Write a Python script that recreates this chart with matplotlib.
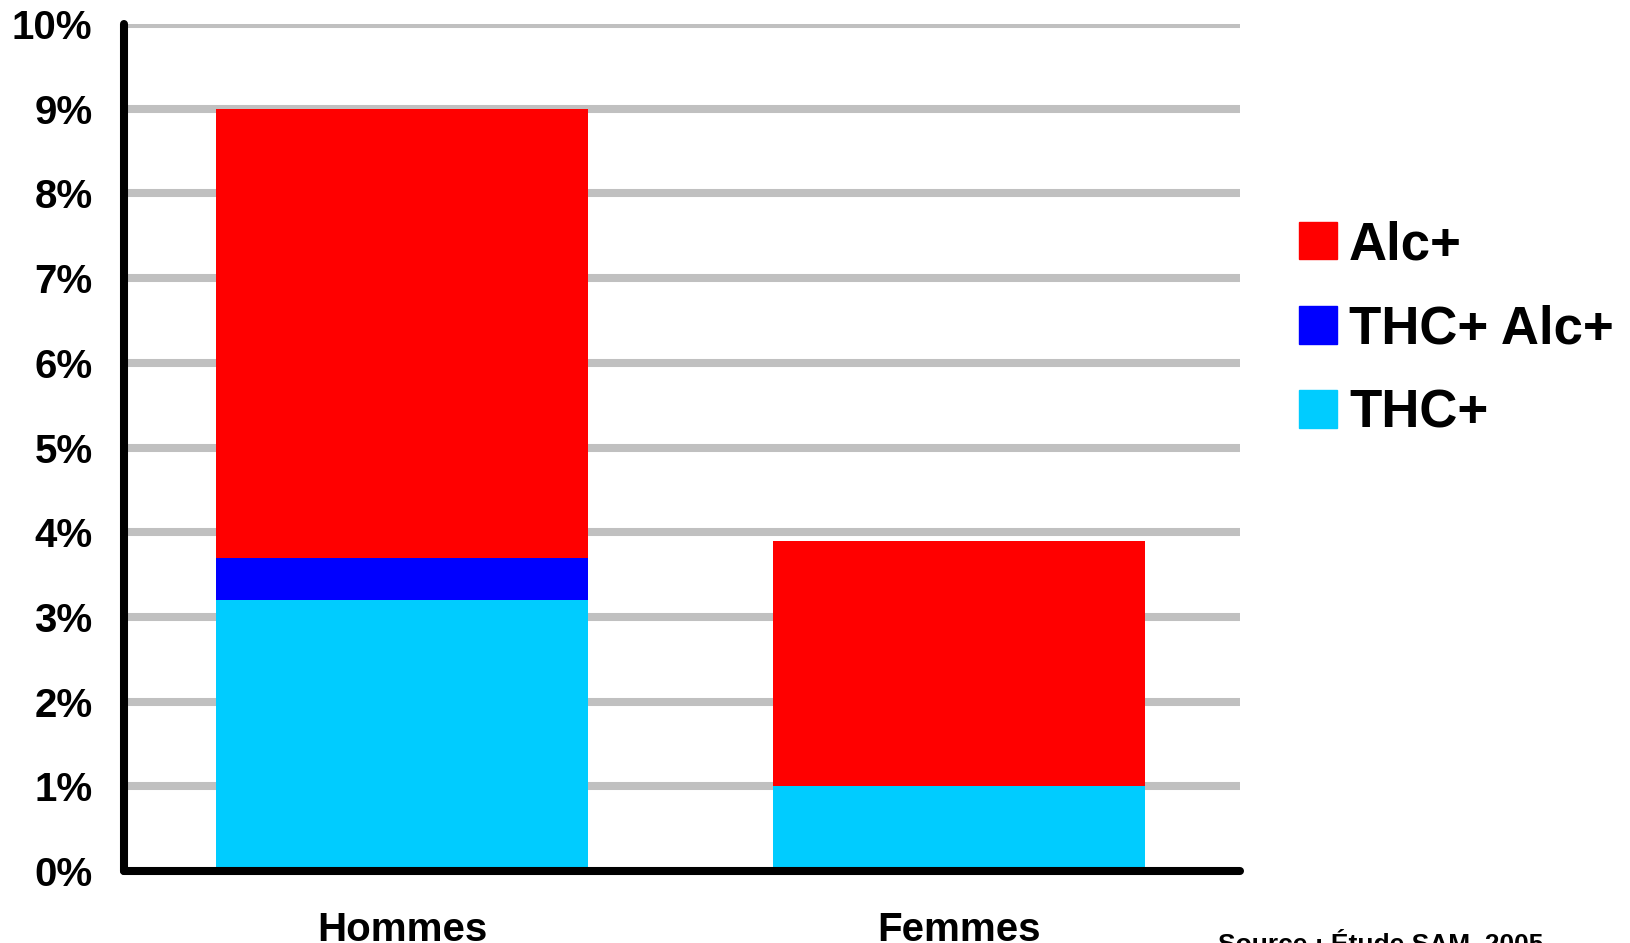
import matplotlib
matplotlib.use("Agg")
import matplotlib.pyplot as plt
from matplotlib.patches import Patch
import numpy as np

categories = ["Hommes", "Femmes"]
thc = [3.2, 1.0]
thc_alc = [0.5, 0.0]
alc = [5.3, 2.9]
series_labels = ["THC+", "THC+ Alc+", "Alc+"]
colors = ["#00CCFF", "#0000FF", "#FF0000"]
yticks = list(range(0, 11))
ytick_labels = [f"{v}%" for v in yticks]
source = "Source : Étude SAM, 2005"

plt.rcParams['font.family'] = ['Liberation Sans', 'DejaVu Sans']
plt.rcParams['font.weight'] = 'bold'

fig = plt.figure(figsize=(16.30, 9.43), dpi=100)
ax = fig.add_axes([0.07638, 0.07635, 0.68436, 0.8982])

x = np.arange(len(categories))
w = 0.668
ax.bar(x, thc, w, color=colors[0], label=series_labels[0], zorder=3)
ax.bar(x, thc_alc, w, bottom=thc, color=colors[1], label=series_labels[1], zorder=3)
bottom3 = [a + b for a, b in zip(thc, thc_alc)]
ax.bar(x, alc, w, bottom=bottom3, color=colors[2], label=series_labels[2], zorder=3)

ax.set_xlim(-0.4982, 1.5045)
ax.set_ylim(0, 10)
ax.set_yticks(yticks)
ax.set_yticklabels(ytick_labels, fontsize=29, fontweight='bold')
ax.set_xticks(x)
ax.set_xticklabels(categories, fontsize=29, fontweight='bold')
ax.tick_params(axis='y', length=0, pad=23)
ax.tick_params(axis='x', length=0, pad=29)

for v in yticks[1:]:
    ax.axhline(v, color="#C0C0C0", lw=5.8, zorder=1)

for s in ["top", "right"]:
    ax.spines[s].set_visible(False)
for s in ["left", "bottom"]:
    ax.spines[s].set_linewidth(5.8)
    ax.spines[s].set_color("black")
    ax.spines[s].set_capstyle("round")
    ax.spines[s].set_zorder(4)

handles = [Patch(color=colors[2]), Patch(color=colors[1]), Patch(color=colors[0])]
labels = [series_labels[2], series_labels[1], series_labels[0]]
fig.legend(handles, labels, loc="upper left",
           bbox_to_anchor=(1299 / 1630, 1 - 220 / 943),
           frameon=False, handlelength=0.72, handleheight=0.72,
           handletextpad=0.23, labelspacing=0.65, borderpad=0, borderaxespad=0,
           prop={'weight': 'bold', 'size': 38})

fig.text(1218 / 1630, 1 - 952 / 943, source, fontsize=19, fontweight='bold',
         ha='left', va='baseline')

fig.savefig("out.png", dpi=100)
